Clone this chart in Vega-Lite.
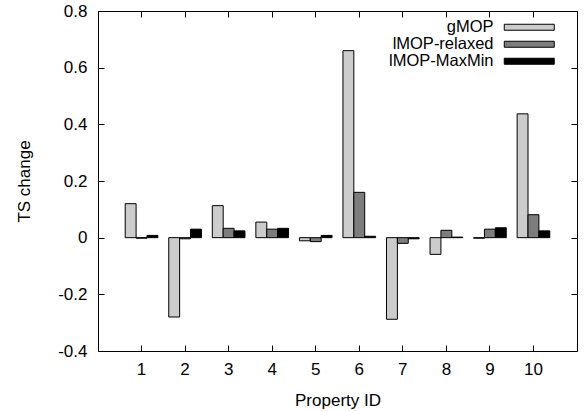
{
  "$schema": "https://vega.github.io/schema/vega-lite/v6.json",
  "width": 479,
  "height": 340,
  "autosize": "none",
  "padding": {"left": 98, "top": 11, "right": 7, "bottom": 60},
  "config": {
    "font": "Liberation Sans",
    "view": {"stroke": "black", "strokeWidth": 1},
    "axis": {
      "domain": false,
      "grid": false,
      "tickColor": "black",
      "tickWidth": 1,
      "tickSize": -6,
      "labelFont": "Liberation Sans",
      "labelFontSize": 17,
      "labelColor": "black",
      "titleFont": "Liberation Sans",
      "titleFontSize": 17,
      "titleFontWeight": "normal",
      "titleColor": "black"
    }
  },
  "data": {
    "values": [
      {"id": 1, "series": "gMOP", "value": 0.12},
      {"id": 1, "series": "lMOP-relaxed", "value": -0.002},
      {"id": 1, "series": "lMOP-MaxMin", "value": 0.008},
      {"id": 2, "series": "gMOP", "value": -0.28},
      {"id": 2, "series": "lMOP-relaxed", "value": -0.004},
      {"id": 2, "series": "lMOP-MaxMin", "value": 0.03},
      {"id": 3, "series": "gMOP", "value": 0.113},
      {"id": 3, "series": "lMOP-relaxed", "value": 0.033},
      {"id": 3, "series": "lMOP-MaxMin", "value": 0.024},
      {"id": 4, "series": "gMOP", "value": 0.055},
      {"id": 4, "series": "lMOP-relaxed", "value": 0.03},
      {"id": 4, "series": "lMOP-MaxMin", "value": 0.033},
      {"id": 5, "series": "gMOP", "value": -0.011},
      {"id": 5, "series": "lMOP-relaxed", "value": -0.014},
      {"id": 5, "series": "lMOP-MaxMin", "value": 0.008},
      {"id": 6, "series": "gMOP", "value": 0.66},
      {"id": 6, "series": "lMOP-relaxed", "value": 0.16},
      {"id": 6, "series": "lMOP-MaxMin", "value": 0.005},
      {"id": 7, "series": "gMOP", "value": -0.288},
      {"id": 7, "series": "lMOP-relaxed", "value": -0.02},
      {"id": 7, "series": "lMOP-MaxMin", "value": -0.004},
      {"id": 8, "series": "gMOP", "value": -0.059},
      {"id": 8, "series": "lMOP-relaxed", "value": 0.026},
      {"id": 8, "series": "lMOP-MaxMin", "value": 0.002},
      {"id": 9, "series": "gMOP", "value": -0.002},
      {"id": 9, "series": "lMOP-relaxed", "value": 0.03},
      {"id": 9, "series": "lMOP-MaxMin", "value": 0.035},
      {"id": 10, "series": "gMOP", "value": 0.437},
      {"id": 10, "series": "lMOP-relaxed", "value": 0.081},
      {"id": 10, "series": "lMOP-MaxMin", "value": 0.024}
    ]
  },
  "layer": [
    {
      "mark": {"type": "bar", "stroke": "black", "strokeWidth": 1, "opacity": 1},
      "encoding": {
        "x": {
          "field": "id",
          "type": "ordinal",
          "scale": {"paddingInner": 0.25, "paddingOuter": 0.625},
          "axis": {"orient": "bottom", "labelAngle": 0, "labelPadding": 16, "title": "Property ID", "titleY": 54, "titleBaseline": "alphabetic"}
        },
        "xOffset": {"field": "series", "type": "nominal", "sort": ["gMOP", "lMOP-relaxed", "lMOP-MaxMin"]},
        "y": {
          "field": "value",
          "type": "quantitative",
          "scale": {"domain": [-0.4, 0.8], "nice": false},
          "axis": {
            "orient": "left",
            "values": [-0.4, -0.2, 0, 0.2, 0.4, 0.6, 0.8],
            "labelPadding": 17,
            "labelExpr": "datum.value === 0 ? '0' : (datum.value < 0 ? '-' : '') + format(abs(datum.value), '.1f')",
            "title": "TS change",
            "titleX": -74,
            "titleBaseline": "middle"
          }
        },
        "fill": {
          "field": "series",
          "type": "nominal",
          "scale": {"domain": ["gMOP", "lMOP-relaxed", "lMOP-MaxMin"], "range": ["#cccccc", "#7d7d7d", "#000000"]},
          "legend": {
            "orient": "none",
            "legendX": 423,
            "legendY": 8,
            "title": null,
            "padding": 0,
            "labelAlign": "right",
            "labelOffset": -44,
            "labelFont": "Liberation Sans",
            "labelFontSize": 16.5,
            "labelColor": "black",
            "labelLimit": 0,
            "symbolType": "M-5,-0.6L5,-0.6L5,0.6L-5,0.6Z",
            "symbolSize": 100,
            "symbolStrokeColor": "black",
            "symbolStrokeWidth": 1,
            "symbolOpacity": 1,
            "rowPadding": 0
          }
        }
      }
    },
    {
      "mark": {"type": "bar", "opacity": 0},
      "encoding": {
        "x": {"field": "id", "type": "ordinal", "axis": {"orient": "top", "labels": false, "title": null}},
        "xOffset": {"field": "series", "type": "nominal", "sort": ["gMOP", "lMOP-relaxed", "lMOP-MaxMin"]},
        "y": {"field": "value", "type": "quantitative", "axis": {"orient": "right", "labels": false, "title": null, "values": [-0.4, -0.2, 0, 0.2, 0.4, 0.6, 0.8]}}
      }
    }
  ],
  "resolve": {"axis": {"x": "independent", "y": "independent"}}
}
